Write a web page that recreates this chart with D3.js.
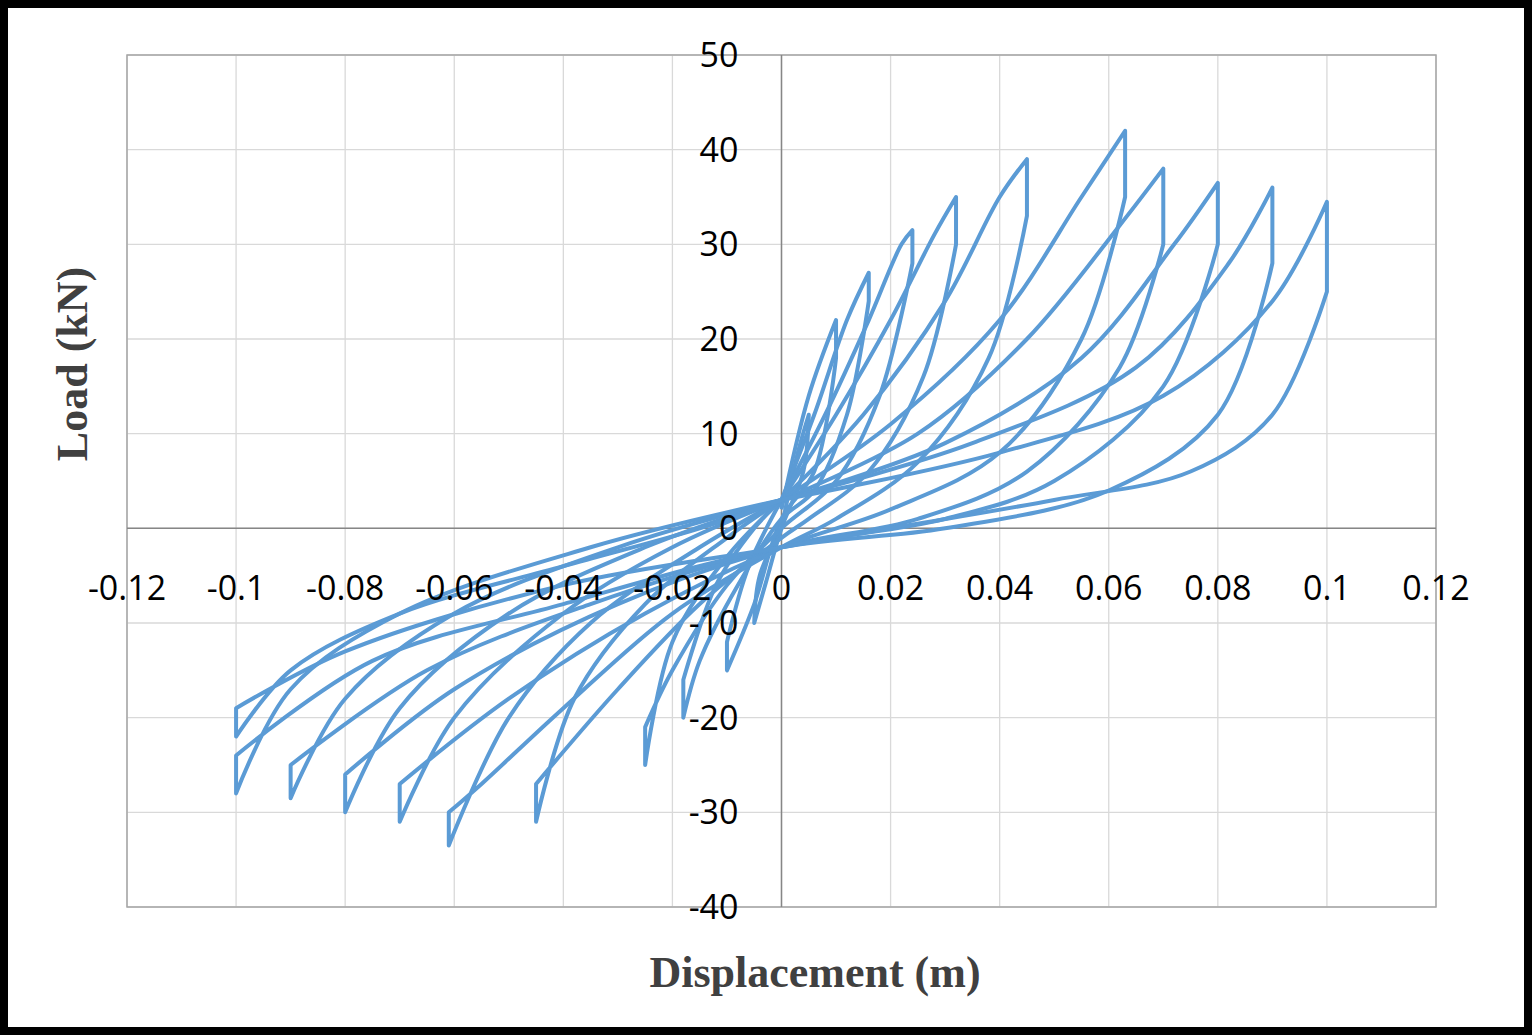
<!DOCTYPE html>
<html><head><meta charset="utf-8">
<script src="https://cdn.jsdelivr.net/npm/d3@7"></script>
<style>body{margin:0;background:#fff}svg{display:block}</style>
</head><body><svg id="c" width="1532" height="1035"></svg>
<script>
const xTicks=[-0.12,-0.1,-0.08,-0.06,-0.04,-0.02,0,0.02,0.04,0.06,0.08,0.1,0.12];
const xTickLabels=["-0.12","-0.1","-0.08","-0.06","-0.04","-0.02","0","0.02","0.04","0.06","0.08","0.1","0.12"];
const yTicks=[-40,-30,-20,-10,0,10,20,30,40,50];
const c1=[[0,0],[0.003,8],[0.005,12],[0.005,12],[0.004,6],[0,0],[-0.003,-6],[-0.005,-10],[-0.005,-10],[-0.004,-5],[0,0]];
const c2=[[0,2],[0.005,14],[0.01,22],[0.01,22],[0.01,18],[0.01,18],[0.006,6],[0,1],[-0.005,-8],[-0.01,-15],[-0.01,-15],[-0.01,-12],[-0.01,-12],[-0.006,-4],[0,3]];
const c3=[[0,3],[0.006,12],[0.012,22],[0.016,27],[0.016,27],[0.016,24],[0.016,24],[0.012,12],[0.006,4],[0,1],[-0.008,-6],[-0.015,-14],[-0.018,-20],[-0.018,-20],[-0.018,-16],[-0.018,-16],[-0.012,-6],[-0.005,0],[0,3]];
const c4=[[0,3],[0.008,12],[0.016,22],[0.022,30],[0.024,31.5],[0.024,31.5],[0.024,28],[0.024,28],[0.018,14],[0.01,5],[0,0],[-0.01,-6],[-0.02,-15],[-0.025,-21],[-0.025,-21],[-0.025,-25],[-0.025,-25],[-0.02,-12],[-0.01,-3],[0,3]];
const c5=[[0,3],[0.01,12],[0.02,22],[0.028,31],[0.032,35],[0.032,35],[0.032,30],[0.032,30],[0.026,16],[0.016,6],[0.005,1],[0,-1],[-0.015,-8],[-0.03,-17],[-0.045,-27],[-0.045,-27],[-0.045,-31],[-0.045,-31],[-0.038,-18],[-0.025,-8],[-0.01,-1],[0,3]];
const c6=[[0,3],[0.015,12],[0.03,24],[0.04,35],[0.045,39],[0.045,39],[0.045,33],[0.045,33],[0.038,18],[0.025,7],[0.01,1],[0,-2],[-0.02,-9],[-0.04,-19],[-0.055,-27],[-0.061,-30],[-0.061,-30],[-0.061,-33.5],[-0.061,-33.5],[-0.05,-20],[-0.035,-10],[-0.015,-2],[0,3]];
const c7=[[0,3],[0.02,11],[0.04,22],[0.055,35],[0.063,42],[0.063,42],[0.063,35],[0.063,35],[0.055,20],[0.04,8],[0.02,2],[0,-2],[-0.025,-9],[-0.05,-18],[-0.07,-27],[-0.07,-27],[-0.07,-31],[-0.07,-31],[-0.06,-20],[-0.04,-9],[-0.02,-2],[0,3]];
const c8=[[0,3],[0.025,10],[0.045,20],[0.062,32],[0.07,38],[0.07,38],[0.07,30],[0.07,30],[0.062,17],[0.045,6],[0.025,1],[0,-2],[-0.03,-8],[-0.06,-17],[-0.08,-26],[-0.08,-26],[-0.08,-30],[-0.08,-30],[-0.07,-19],[-0.05,-9],[-0.025,-2],[0,3]];
const c9=[[0,3],[0.03,9],[0.055,18],[0.072,30],[0.08,36.5],[0.08,36.5],[0.08,30],[0.08,30],[0.07,15],[0.05,5],[0.03,1],[0,-2],[-0.035,-8],[-0.065,-15],[-0.09,-25],[-0.09,-25],[-0.09,-28.5],[-0.09,-28.5],[-0.08,-18],[-0.06,-9],[-0.03,-2],[0,3]];
const c10=[[0,3],[0.035,9],[0.065,17],[0.082,28],[0.09,36],[0.09,36],[0.09,28],[0.09,28],[0.08,12],[0.06,4],[0.03,0],[0,-2],[-0.04,-8],[-0.075,-14],[-0.1,-24],[-0.1,-24],[-0.1,-28],[-0.1,-28],[-0.09,-17],[-0.07,-9],[-0.035,-2],[0,3]];
const c11=[[0,3],[0.04,8],[0.07,14],[0.09,24],[0.1,34.5],[0.1,34.5],[0.1,25],[0.1,25],[0.09,12],[0.075,6],[0.05,3],[0.02,0],[0,-2],[-0.04,-6],[-0.08,-13],[-0.1,-19],[-0.1,-19],[-0.1,-22],[-0.1,-22],[-0.09,-15],[-0.07,-9],[-0.04,-4],[-0.015,0],[0,3]];
const cycles=[c1,c2,c3,c4,c5,c6,c7,c8,c9,c10,c11];

const svg=d3.select("#c");
svg.append("rect").attr("x",4).attr("y",4).attr("width",1524).attr("height",1027).attr("fill","#fff").attr("stroke","#000").attr("stroke-width",8);
const L=127,R=1436,T=55,B=907;
const x=d3.scaleLinear().domain([-0.12,0.12]).range([L,R]);
const y=d3.scaleLinear().domain([-40,50]).range([B,T]);
const g=svg.append("g");
xTicks.forEach(t=>g.append("line").attr("x1",x(t)).attr("x2",x(t)).attr("y1",T).attr("y2",B).attr("stroke","#d9d9d9").attr("stroke-width",1.3));
yTicks.forEach(t=>g.append("line").attr("y1",y(t)).attr("y2",y(t)).attr("x1",L).attr("x2",R).attr("stroke","#d9d9d9").attr("stroke-width",1.3));
g.append("rect").attr("x",L).attr("y",T).attr("width",R-L).attr("height",B-T).attr("fill","none").attr("stroke","#a6a6a6").attr("stroke-width",1.5);
g.append("line").attr("x1",L).attr("x2",R).attr("y1",y(0)).attr("y2",y(0)).attr("stroke","#868686").attr("stroke-width",1.5);
g.append("line").attr("x1",x(0)).attr("x2",x(0)).attr("y1",T).attr("y2",B).attr("stroke","#868686").attr("stroke-width",1.5);
const line=d3.line().x(d=>x(d[0])).y(d=>y(d[1])).curve(d3.curveCatmullRom.alpha(0.5));
cycles.forEach(c=>g.append("path").attr("d",line(c)).attr("fill","none").attr("stroke","#5b9bd5").attr("stroke-width",4).attr("stroke-linejoin","round"));
const f="'Open Sans',sans-serif";
xTicks.forEach((t,i)=>svg.append("text").attr("x",x(t)).attr("y",y(0)+72).attr("text-anchor","middle").attr("font-family",f).attr("font-size",34).attr("fill","#000").text(xTickLabels[i]));
yTicks.forEach(t=>svg.append("text").attr("x",x(0)-43).attr("y",y(t)+12).attr("text-anchor","end").attr("font-family",f).attr("font-size",34).attr("fill","#000").text(t));
svg.append("text").attr("x",815).attr("y",987).attr("text-anchor","middle").attr("font-family","'Liberation Serif',serif").attr("font-weight","bold").attr("font-size",44).attr("fill","#404040").text("Displacement  (m)");
svg.append("text").attr("transform","translate(87,364) rotate(-90)").attr("text-anchor","middle").attr("font-family","'Liberation Serif',serif").attr("font-weight","bold").attr("font-size",44).attr("fill","#404040").text("Load (kN)");
</script></body></html>
